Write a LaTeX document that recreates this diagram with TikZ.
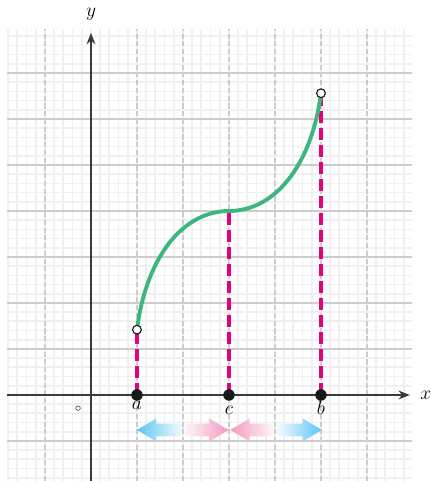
\documentclass[tikz,border=0pt]{standalone}
\usetikzlibrary{arrows.meta}
\definecolor{gridfine}{HTML}{F0F0F0}
\definecolor{gridmajor}{HTML}{CDCDCD}
\definecolor{axiscol}{HTML}{3A3A3A}
\definecolor{curvegreen}{HTML}{3BB77E}
\definecolor{magentaline}{HTML}{E5007D}
\definecolor{skyblue}{HTML}{5BC6F2}
\definecolor{softpink}{HTML}{F39AC0}
\tikzset{
  finegrid/.style={gridfine, line width=1.1pt},
  majorh/.style={gridmajor, line width=1.2pt},
  majorv/.style={gridmajor, line width=1.2pt, dash pattern=on 3.2pt off 1.6pt},
  axisline/.style={axiscol, line width=0.85pt, -{Stealth[length=7pt,width=5.5pt]}},
  funccurve/.style={curvegreen, line width=2.4pt},
  dropline/.style={magentaline, line width=2.5pt, dash pattern=on 7.5pt off 3pt},
  fulldot/.style={circle, fill=black!90, inner sep=0pt, minimum size=0.25cm},
  opendot/.style={circle, draw=black!90, fill=white, line width=0.7pt, inner sep=0pt, minimum size=0.19cm},
  lbl/.style={inner sep=0pt, anchor=base}
}
\begin{document}
\begin{tikzpicture}[x=1cm,y=1cm,font=\fontsize{12}{14}\selectfont]
\useasboundingbox (-1.978,-1.870) rectangle (7.391,8.587);
% grid
\begin{scope}
  \clip (-1.83,-1.87) rectangle (6.98,7.95);
  \draw[finegrid] (-2,-2) grid[step=0.2] (7.2,8.2);
  \foreach \y in {-1,1,2,...,7} \draw[majorh] (-1.83,\y) -- (6.98,\y);
  \foreach \x in {-1,1,2,...,6} \draw[majorv] (\x,-1.87) -- (\x,7.95);
\end{scope}
% axes
\coordinate (xs) at (-1.83,0);
\coordinate (xe) at (6.93,0);
\coordinate (ys) at (0,-1.87);
\coordinate (ye) at (0,7.87);
\draw[axisline] (xs) -- (xe);
\draw[axisline] (ys) -- (ye);
\node (xl) at (7.28,0) {$x$};
\node (yl) at (0,8.27) {$y$};
\node (orig) at (-0.276,-0.30) {\fontsize{7.5}{8}\selectfont$\circ$};
% points
\coordinate (A) at (1,0);
\coordinate (C) at (3,0);
\coordinate (B) at (5,0);
\coordinate (FA) at (1,1.42);
\coordinate (FC) at (3,4);
\coordinate (FB) at (5,6.56);
\draw[dropline] (A) -- (FA);
\draw[dropline] (C) -- (FC);
\draw[dropline] (B) -- (FB);
\draw[funccurve] (FA) .. controls (1.2,3.0) and (2,4) .. (FC)
                      .. controls (4,4) and (4.8,5.0) .. (FB);
\node[opendot] (oa) at (FA) {};
\node[opendot] (ob) at (FB) {};
\node[fulldot] (da) at (A) {};
\node[fulldot] (dc) at (C) {};
\node[fulldot] (db) at (B) {};
\node[lbl] (la) at (1,-0.31) {$a$};
\node[lbl] (lc) at (3,-0.43) {$c$};
\node[lbl] (lb) at (5,-0.43) {$b$};
% arrows
\def\ay{-0.76}
\shade[left color=skyblue, right color=skyblue!8]
  (1.0,\ay) -- (1.42,\ay+0.25) -- (1.42,\ay+0.14) -- (1.97,\ay+0.14)
  -- (1.97,\ay-0.14) -- (1.42,\ay-0.14) -- (1.42,\ay-0.25) -- cycle;
\shade[right color=softpink, left color=softpink!10]
  (2.99,\ay) -- (2.57,\ay+0.25) -- (2.57,\ay+0.14) -- (2.05,\ay+0.14)
  -- (2.05,\ay-0.14) -- (2.57,\ay-0.14) -- (2.57,\ay-0.25) -- cycle;
\shade[left color=softpink, right color=softpink!10]
  (3.03,\ay) -- (3.45,\ay+0.25) -- (3.45,\ay+0.14) -- (3.96,\ay+0.14)
  -- (3.96,\ay-0.14) -- (3.45,\ay-0.14) -- (3.45,\ay-0.25) -- cycle;
\shade[right color=skyblue, left color=skyblue!8]
  (5.02,\ay) -- (4.60,\ay+0.25) -- (4.60,\ay+0.14) -- (4.05,\ay+0.14)
  -- (4.05,\ay-0.14) -- (4.60,\ay-0.14) -- (4.60,\ay-0.25) -- cycle;
\end{tikzpicture}
\end{document}
